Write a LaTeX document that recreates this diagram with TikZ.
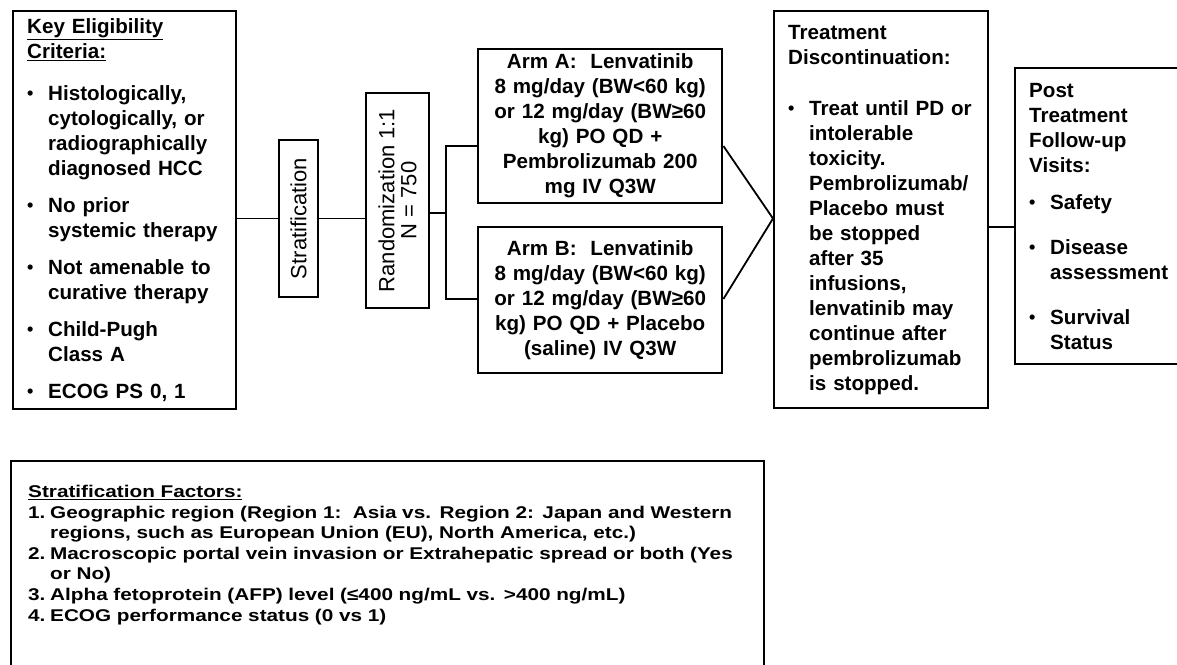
\documentclass[tikz,border=0pt]{standalone}
\usepackage{fontspec}
\setmainfont{Liberation Sans}
\newfontfamily\factfont[FakeStretch=1.22]{Liberation Sans}
\usepackage{tikz}
\usetikzlibrary{arrows.meta, positioning}

\newlength{\bgap}
\newcommand{\bdot}{\raisebox{1pt}{\fontsize{18}{18}\selectfont\textbullet}}
\newcommand{\bitem}[1]{\par\vspace{\bgap}\hangindent=21pt\hangafter=1\noindent\makebox[21pt][l]{\bdot}#1\par}
\newcommand{\fitem}[2]{\par\hangindent=22pt\hangafter=1\noindent\makebox[22pt][l]{#1}#2\par}

\begin{document}
\begin{tikzpicture}[x=1pt, y=-1pt, >=Stealth,
		box/.style={draw, line width=2.4pt, align=left, inner ysep=4,
			font=\bfseries\fontsize{20.6}{25}\selectfont},
		armbox/.style={draw, line width=2.4pt, align=center, text width=230, inner xsep=7,
			font=\bfseries\fontsize{20.6}{25}\selectfont},
		turnbox/.style={draw, line width=2.4pt, rotate=90, align=center, inner sep=0,
			font=\fontsize{22}{22}\selectfont},
		link/.style={line width=1.8pt}]
		
		% 1. Rahmen des Bildes festlegen
		\useasboundingbox (0,0) rectangle (1177,664);
		\clip (0,0) rectangle (1177,664);
		
		% 2. Einschlusskriterien links
		\node[box, anchor=north west, text width=195, inner xsep=14, minimum height=398] (key) at (12,10)
		{\setlength{\bgap}{12pt}\underline{Key Eligibility}\newline\underline{Criteria:}\par\vspace{5pt}
			\bitem{Histologically,\newline cytologically, or\newline radiographically\newline diagnosed HCC}
			\bitem{No prior\newline systemic therapy}
			\bitem{Not amenable to\newline curative therapy}
			\bitem{Child-Pugh\newline Class A}
			\bitem{ECOG PS 0, 1}};
		
		% 3. Stratifizierung und Randomisierung (senkrechter Text)
		\node[turnbox, minimum width=157, minimum height=39] (strat) at (298.5,218.5) {Stratification};
		\node[turnbox, minimum width=215, minimum height=63] (rand) at (397.5,200.5) {Randomization 1:1\\N = 750};
		
		% 4. Die beiden Behandlungsarme
		\node[armbox, anchor=north west, minimum height=154] (armA) at (477,48)
		{Arm A:\ \ Lenvatinib\\8 mg/day (BW<60 kg)\\or 12 mg/day (BW≥60\\kg) PO QD +\\Pembrolizumab 200\\mg IV Q3W};
		\node[armbox, anchor=north west, minimum height=146] (armB) at (477,226)
		{Arm B:\ \ Lenvatinib\\8 mg/day (BW<60 kg)\\or 12 mg/day (BW≥60\\kg) PO QD + Placebo\\(saline) IV Q3W};
		
		% 5. Therapieabbruch
		\node[box, anchor=north west, text width=186, inner xsep=14, minimum height=397] (treat) at (773,10)
		{\setlength{\bgap}{26pt}Treatment\newline Discontinuation:
			\bitem{Treat until PD or\newline intolerable\newline toxicity.\newline Pembrolizumab/\newline Placebo must\newline be stopped\newline after 35\newline infusions,\newline lenvatinib may\newline continue after\newline pembrolizumab\newline is stopped.}};
		
		% 6. Nachbeobachtung (rechts abgeschnitten)
		\node[box, anchor=north west, text width=160, inner xsep=14, minimum height=296] (post) at (1014,67)
		{\setlength{\bgap}{12pt}Post\newline Treatment\newline Follow-up\newline Visits:
			\bitem{Safety}
			\setlength{\bgap}{20pt}
			\bitem{Disease\newline assessment}
			\bitem{Survival\newline Status}};
		
		% 7. Stratifizierungsfaktoren unten
		\node[draw, line width=2.4pt, anchor=north west, minimum width=753, minimum height=240] (factbox) at (10,460) {};
		\node[anchor=north west, text width=735, align=left, inner sep=0,
		font=\factfont\bfseries\fontsize{17}{20.6}\selectfont] (facts) at ([xshift=18, yshift=-25]factbox.north west)
		{\underline{Stratification Factors:}
			\fitem{1.}{Geographic region (Region 1:\ \ Asia vs. Region 2: Japan and Western\newline regions, such as European Union (EU), North America, etc.)}
			\fitem{2.}{Macroscopic portal vein invasion or Extrahepatic spread or both (Yes\newline or No)}
			\fitem{3.}{Alpha fetoprotein (AFP) level (≤400 ng/mL vs. >400 ng/mL)}
			\fitem{4.}{ECOG performance status (0 vs 1)}};
		
		% 8. Verbindungslinien
		\coordinate (split) at (446,213);
		\coordinate (splitA) at (446,146);
		\coordinate (splitB) at (446,299);
		\coordinate (handoff) at (1000,227);
		\draw[link] (strat.north -| key.east) -- (strat.north);
		\draw[link] (strat.south) -- (strat.south -| rand.north);
		\draw[link] (split -| rand.south) -- (split);
		\draw[link] (splitA -| armA.west) -- (splitA) -- (splitB) -- (splitB -| armB.west);
		\draw[link] (armA.east |- splitA) -- (treat.west |- strat) -- (armB.east |- splitB);
		\draw[link] (handoff -| treat.east) -- (handoff -| post.west);
		
	\end{tikzpicture}
\end{document}
